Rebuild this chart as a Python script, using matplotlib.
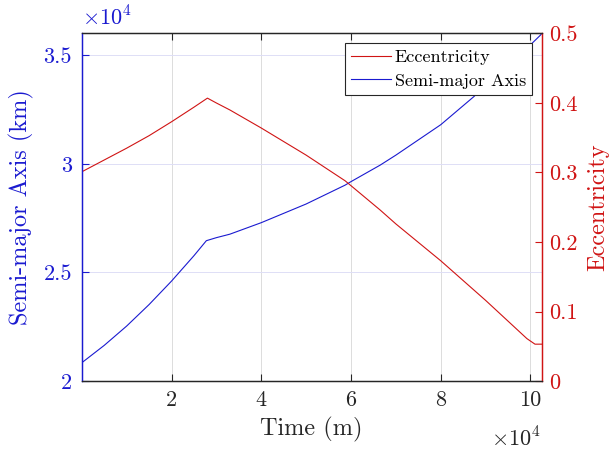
import matplotlib
matplotlib.use("Agg")
import matplotlib.pyplot as plt
from matplotlib.ticker import FuncFormatter

plt.rcParams['font.family'] = ['cmr10', 'DejaVu Serif']
plt.rcParams['mathtext.fontset'] = 'cm'
plt.rcParams['axes.unicode_minus'] = False

# Time (minutes)
t_sma = [0, 5000, 10000, 15000, 20000, 25000, 27760, 30000, 33000, 40000, 50000,
         58700, 60000, 66500, 70000, 80000, 87300, 90000, 100300, 102200, 102500]
sma = [20840, 21640, 22530, 23520, 24600, 25770, 26460, 26600, 26760, 27290, 28150,
       29020, 29180, 29940, 30400, 31800, 33080, 33590, 35540, 35920, 36000]

t_ecc = [0, 5000, 10000, 15000, 20000, 25000, 28000, 30000, 33000, 40000, 50000,
         58700, 60000, 66500, 70000, 80000, 90000, 99200, 101000, 102500]
ecc = [0.301, 0.318, 0.335, 0.353, 0.373, 0.394, 0.407, 0.400, 0.390, 0.364, 0.325,
       0.288, 0.281, 0.246, 0.226, 0.173, 0.116, 0.061, 0.053, 0.053]

xticks = [20000, 40000, 60000, 80000, 100000]
yticks_l = [20000, 25000, 30000, 35000]
yticks_r = [0, 0.1, 0.2, 0.3, 0.4, 0.5]

BLUE = '#1a1ad0'
RED = '#d01414'
GRAY = '#262626'

fig = plt.figure(figsize=(6.09, 4.57), dpi=100)
ax = fig.add_axes([0.1343, 0.1663, 0.8895 - 0.1343, 0.9267 - 0.1663])
ax2 = ax.twinx()

l1, = ax.plot(t_sma, sma, color=BLUE, lw=0.8, label='Semi-major Axis')
l2, = ax2.plot(t_ecc, ecc, color=RED, lw=0.8, label='Eccentricity')

ax.set_xlim(0, 102500)
ax.set_ylim(20000, 36000)
ax2.set_ylim(0, 0.5)

ax.set_xticks(xticks)
ax.set_yticks(yticks_l)
ax2.set_yticks(yticks_r)
ax.xaxis.set_major_formatter(FuncFormatter(lambda v, p: f"{v/1e4:g}"))
ax.yaxis.set_major_formatter(FuncFormatter(lambda v, p: f"{v/1e4:g}"))
ax2.yaxis.set_major_formatter(FuncFormatter(lambda v, p: f"{v:g}"))

# grids
ax.xaxis.grid(True, color='#dcdcdc', lw=0.7)
ax.yaxis.grid(True, color='#dedef6', lw=0.7)
ax.set_axisbelow(True)

# spines
for s in ['top', 'bottom']:
    ax.spines[s].set_color(GRAY)
    ax2.spines[s].set_color(GRAY)
ax.spines['left'].set_color(BLUE)
ax2.spines['left'].set_color(BLUE)
ax.spines['right'].set_color(RED)
ax2.spines['right'].set_color(RED)
for a in (ax, ax2):
    for s in a.spines.values():
        s.set_linewidth(0.9)

ax.tick_params(axis='x', direction='in', top=True, length=5, colors=GRAY,
               labelsize=16, pad=7, width=0.8)
ax.tick_params(axis='y', direction='in', length=5, colors=BLUE,
               labelsize=16, pad=7, width=0.8)
ax2.tick_params(axis='y', direction='in', length=5, colors=RED,
                labelsize=16, pad=5, width=0.8)

ax.set_xlabel('Time (m)', fontsize=17.5, color=GRAY, labelpad=5)
ax.set_ylabel('Semi-major Axis (km)', fontsize=17.5, color=BLUE, labelpad=7)
ax2.set_ylabel('Eccentricity', fontsize=17.5, color=RED, labelpad=7)

# exponent labels
ax.text(0.0, 1.012, r'$\times10^4$', transform=ax.transAxes, color=BLUE,
        fontsize=16, ha='left', va='bottom')
ax.text(0.998, -0.13, r'$\times10^4$', transform=ax.transAxes, color=GRAY,
        fontsize=16, ha='right', va='top')

leg = ax2.legend([l2, l1], ['Eccentricity', 'Semi-major Axis'], loc='upper right',
                 bbox_to_anchor=(0.9795, 0.9725), fontsize=13, frameon=True,
                 fancybox=False, edgecolor='#262626', framealpha=1,
                 borderpad=0.35, handlelength=2.2, handletextpad=0.2,
                 labelspacing=0.45, borderaxespad=0.0)
leg.get_frame().set_linewidth(0.8)

fig.savefig('out.png', dpi=100)
